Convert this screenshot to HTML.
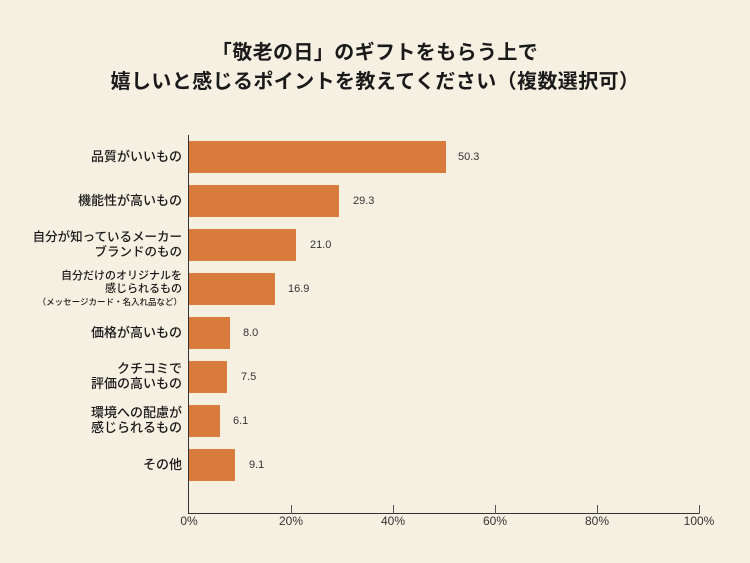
<!DOCTYPE html>
<html><head><meta charset="utf-8"><style>
body{margin:0;width:750px;height:563px;background:#f6f0e3;overflow:hidden;font-family:"Liberation Sans","Noto Sans CJK JP",sans-serif;color:#1a1a1a;position:relative}
.t{position:absolute;left:0;width:750px;text-align:center;font-weight:bold;font-size:20px;letter-spacing:0.4px;line-height:24px}
.bar{position:absolute;left:189px;height:32px;background:#d97b3c}
.v{position:absolute;font-size:11px;color:#333;line-height:14px}
.l{position:absolute;right:568px;text-align:right;font-size:13px;font-weight:500;line-height:15px;white-space:nowrap}
.x{position:absolute;top:514px;font-size:12px;color:#333;width:50px;text-align:center}
.tk{position:absolute;top:505px;width:1px;height:9px;background:#555}
</style></head><body>
<div class="t" style="top:41px">「敬老の日」のギフトをもらう上で</div>
<div class="t" style="top:70px">嬉しいと感じるポイントを教えてください（複数選択可）</div>
<div style="position:absolute;left:188px;top:135px;width:1px;height:379px;background:#333"></div>
<div style="position:absolute;left:188px;top:513px;width:512px;height:1px;background:#333"></div>
<div class="tk" style="left:291px"></div><div class="tk" style="left:393px"></div><div class="tk" style="left:495px"></div><div class="tk" style="left:597px"></div><div class="tk" style="left:699px"></div>
<div class="x" style="left:164px">0%</div><div class="x" style="left:266px">20%</div><div class="x" style="left:368px">40%</div><div class="x" style="left:470px">60%</div><div class="x" style="left:572px">80%</div><div class="x" style="left:674px">100%</div>

<div class="bar" style="top:141px;width:257px"></div><div class="v" style="left:458px;top:150px">50.3</div>
<div class="l" style="top:149px">品質がいいもの</div>
<div class="bar" style="top:185px;width:150px"></div><div class="v" style="left:353px;top:194px">29.3</div>
<div class="l" style="top:193px">機能性が高いもの</div>
<div class="bar" style="top:229px;width:107px"></div><div class="v" style="left:310px;top:238px">21.0</div>
<div class="l" style="top:230px;font-size:12.5px">自分が知っているメーカー<br>ブランドのもの</div>
<div class="bar" style="top:273px;width:86px"></div><div class="v" style="left:288px;top:282px">16.9</div>
<div class="l" style="top:270px;font-size:11px;line-height:13px">自分だけのオリジナルを<br>感じられるもの<br><span style="font-size:8.5px">（メッセージカード・名入れ品など）</span></div>
<div class="bar" style="top:317px;width:41px"></div><div class="v" style="left:243px;top:326px">8.0</div>
<div class="l" style="top:325px">価格が高いもの</div>
<div class="bar" style="top:361px;width:38px"></div><div class="v" style="left:241px;top:370px">7.5</div>
<div class="l" style="top:361px">クチコミで<br>評価の高いもの</div>
<div class="bar" style="top:405px;width:31px"></div><div class="v" style="left:233px;top:414px">6.1</div>
<div class="l" style="top:405px">環境への配慮が<br>感じられるもの</div>
<div class="bar" style="top:449px;width:46px"></div><div class="v" style="left:249px;top:458px">9.1</div>
<div class="l" style="top:457px">その他</div>
</body></html>
